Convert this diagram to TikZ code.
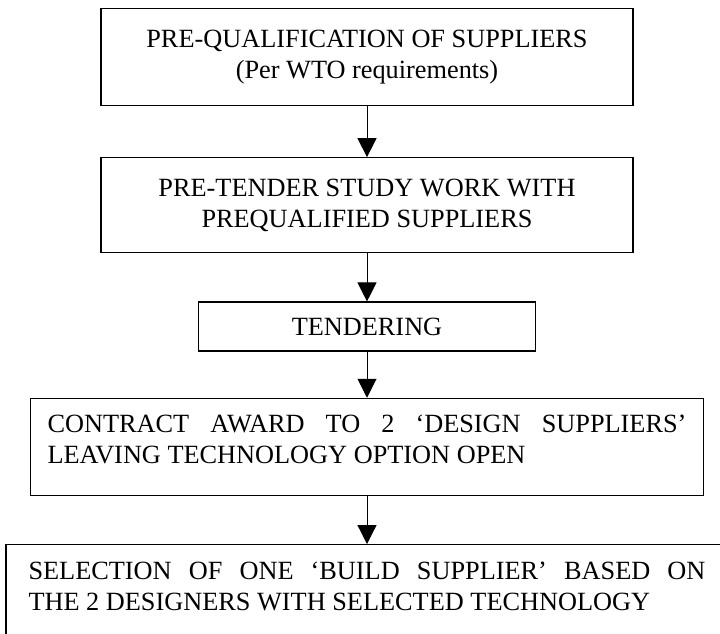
\documentclass[tikz,border=0pt]{standalone}
\usepackage{fontspec}
\setmainfont{Liberation Serif}
\usepackage{tikz}
\usetikzlibrary{positioning}
\usetikzlibrary{arrows.meta}

\begin{document}
\begin{tikzpicture}[x=1pt, y=1pt, >={Triangle[width=19pt, length=19pt]}, node distance=48pt,
    stage/.style={draw, line width=1.3pt, align=center, inner sep=0pt, font=\fontsize{26.3}{31}\selectfont},
    link/.style={->, line width=1pt}]
    \useasboundingbox (0,0) rectangle (720,-634);
    \clip (0,0) rectangle (720,-634);
    \node[stage, minimum width=532pt, minimum height=97pt] (prequal) at (367,-57) {PRE-QUALIFICATION OF SUPPLIERS\\(Per WTO requirements)};
    \node[stage, minimum width=532pt, minimum height=95pt, below=51pt of prequal] (pretender) {PRE-TENDER STUDY WORK WITH\\PREQUALIFIED SUPPLIERS};
    \node[stage, minimum width=337pt, minimum height=49pt, below=of pretender] (tender) {TENDERING};
    \node[stage, inner xsep=17pt, inner ysep=16.6pt, below=46pt of tender] (award) {\parbox[t][63.8pt][t]{639pt}{CONTRACT AWARD TO 2 `DESIGN SUPPLIERS'\linebreak LEAVING TECHNOLOGY OPTION OPEN}};
    \node[stage, inner xsep=22.5pt, inner ysep=17.6pt, below=of award] (select) {\parbox[t][110pt][t]{677pt}{SELECTION OF ONE `BUILD SUPPLIER' BASED ON\linebreak THE 2 DESIGNERS WITH SELECTED TECHNOLOGY}};
    \draw[link] (prequal) -- (pretender);
    \draw[link] (pretender) -- (tender);
    \draw[link] (tender) -- (award);
    \draw[link] (award) -- (select);
\end{tikzpicture}
\end{document}
